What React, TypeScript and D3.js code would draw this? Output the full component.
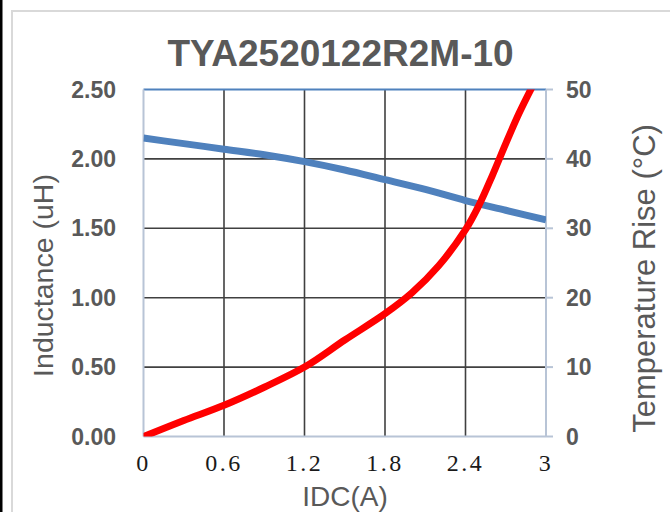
import React from 'react';
import * as d3 from 'd3';

// IDC (A) sample points
const idcL = [0, 0.3, 0.6, 0.9, 1.2, 1.5, 1.8, 2.1, 2.4, 2.7, 3.0];
const inductance = [2.15, 2.11, 2.07, 2.03, 1.98, 1.92, 1.85, 1.78, 1.70, 1.63, 1.56];

const idcT = [0, 0.3, 0.6, 0.9, 1.2, 1.5, 1.8, 2.0, 2.2, 2.4, 2.5, 2.6, 2.7, 2.8, 2.9];
const tempRise = [0, 2.3, 4.5, 7.1, 10, 13.9, 17.7, 20.7, 24.6, 29.8, 33.3, 37.6, 42.2, 46.6, 50.5];

const xTicks = [0, 0.6, 1.2, 1.8, 2.4, 3];
const leftTicks = [0, 0.5, 1, 1.5, 2, 2.5];
const rightTicks = [0, 10, 20, 30, 40, 50];

const W = 670;
const H = 512;
const plot = { left: 143.5, right: 546, top: 89.5, bottom: 436.5 };

const App = () => {
  const x = d3.scaleLinear().domain([0, 3]).range([plot.left, plot.right]);
  const yL = d3.scaleLinear().domain([0, 2.5]).range([plot.bottom, plot.top]);
  const yR = d3.scaleLinear().domain([0, 50]).range([plot.bottom, plot.top]);

  const blueLine = d3.line<number>()
    .x((d, i) => x(idcL[i]))
    .y(d => yL(d))
    .curve(d3.curveMonotoneX);
  const redLine = d3.line<number>()
    .x((d, i) => x(idcT[i]))
    .y(d => yR(d))
    .curve(d3.curveCatmullRom.alpha(0.5));

  const grey = '#595959';
  const axisCol = '#b8c4d6';

  return (
    <svg width={W} height={H} style={{ position: 'absolute', left: 0, top: 0, background: '#fff' }}>
      <rect x={0} y={0} width={2.5} height={H} fill="#000" />
      <path d={`M12,${H} V11 H${W}`} fill="none" stroke="#d9d9d9" strokeWidth={2} />

      <text x={340.5} y={66} textAnchor="middle" fill={grey}
        style={{ font: 'bold 37px "Liberation Sans", Arial, sans-serif' }}>TYA2520122R2M-10</text>

      <defs>
        <clipPath id="plotClip">
          <rect x={plot.left} y={plot.top} width={plot.right - plot.left} height={plot.bottom - plot.top} />
        </clipPath>
      </defs>

      {/* grid */}
      {leftTicks.slice(1, -1).map(t => (
        <line key={'h' + t} x1={plot.left} x2={plot.right} y1={yL(t)} y2={yL(t)} stroke="#404040" strokeWidth={1.6} />
      ))}
      {xTicks.slice(1, -1).map(t => (
        <line key={'v' + t} x1={x(t)} x2={x(t)} y1={plot.top} y2={plot.bottom} stroke="#404040" strokeWidth={1.6} />
      ))}

      {/* axes */}
      <line x1={plot.left} x2={plot.right} y1={plot.top} y2={plot.top} stroke="#4f81bd" strokeWidth={2} />
      <line x1={plot.left} x2={plot.left} y1={plot.top} y2={plot.bottom} stroke={axisCol} strokeWidth={2} />
      <line x1={plot.left} x2={plot.right} y1={plot.bottom} y2={plot.bottom} stroke={axisCol} strokeWidth={2} />
      <line x1={plot.right} x2={plot.right} y1={plot.top} y2={plot.bottom} stroke={axisCol} strokeWidth={2} />
      {rightTicks.map(t => (
        <line key={'rt' + t} x1={plot.right} x2={plot.right + 7} y1={yR(t)} y2={yR(t)} stroke={axisCol} strokeWidth={2} />
      ))}

      {/* series */}
      <g clipPath="url(#plotClip)">
        <path d={blueLine(inductance) || ''} fill="none" stroke="#4f81bd" strokeWidth={7} />
        <path d={redLine(tempRise) || ''} fill="none" stroke="#ff0000" strokeWidth={7} strokeLinecap="round" />
      </g>

      {/* tick labels */}
      {leftTicks.map(t => (
        <text key={'lt' + t} x={116} y={yL(t)} dy="0.35em" textAnchor="end" fill={grey}
          style={{ font: 'bold 23px "Liberation Sans", Arial, sans-serif' }}>{d3.format('.2f')(t)}</text>
      ))}
      {rightTicks.map(t => (
        <text key={'rl' + t} x={566} y={yR(t)} dy="0.35em" textAnchor="start" fill={grey}
          style={{ font: 'bold 23px "Liberation Sans", Arial, sans-serif' }}>{t}</text>
      ))}
      {xTicks.map(t => (
        <text key={'xl' + t} x={x(t)} y={471} textAnchor="middle" fill="#1a1a1a"
          style={{ font: '24px "Liberation Serif", "DejaVu Serif", serif', letterSpacing: '2.5px' }}>{String(t)}</text>
      ))}

      {/* axis titles */}
      <text transform="translate(53,275.5) rotate(-90)" textAnchor="middle" fill={grey}
        style={{ font: '28.5px "Liberation Sans", Arial, sans-serif' }}>Inductance (uH)</text>
      <text transform="translate(655,278.5) rotate(-90)" textAnchor="middle" fill={grey}
        style={{ font: '31px "Liberation Sans", Arial, sans-serif' }}>Temperature Rise (°C)</text>
      <text x={345} y={506} textAnchor="middle" fill={grey}
        style={{ font: '28px "Liberation Sans", Arial, sans-serif' }}>IDC(A)</text>
    </svg>
  );
};

export default App;
